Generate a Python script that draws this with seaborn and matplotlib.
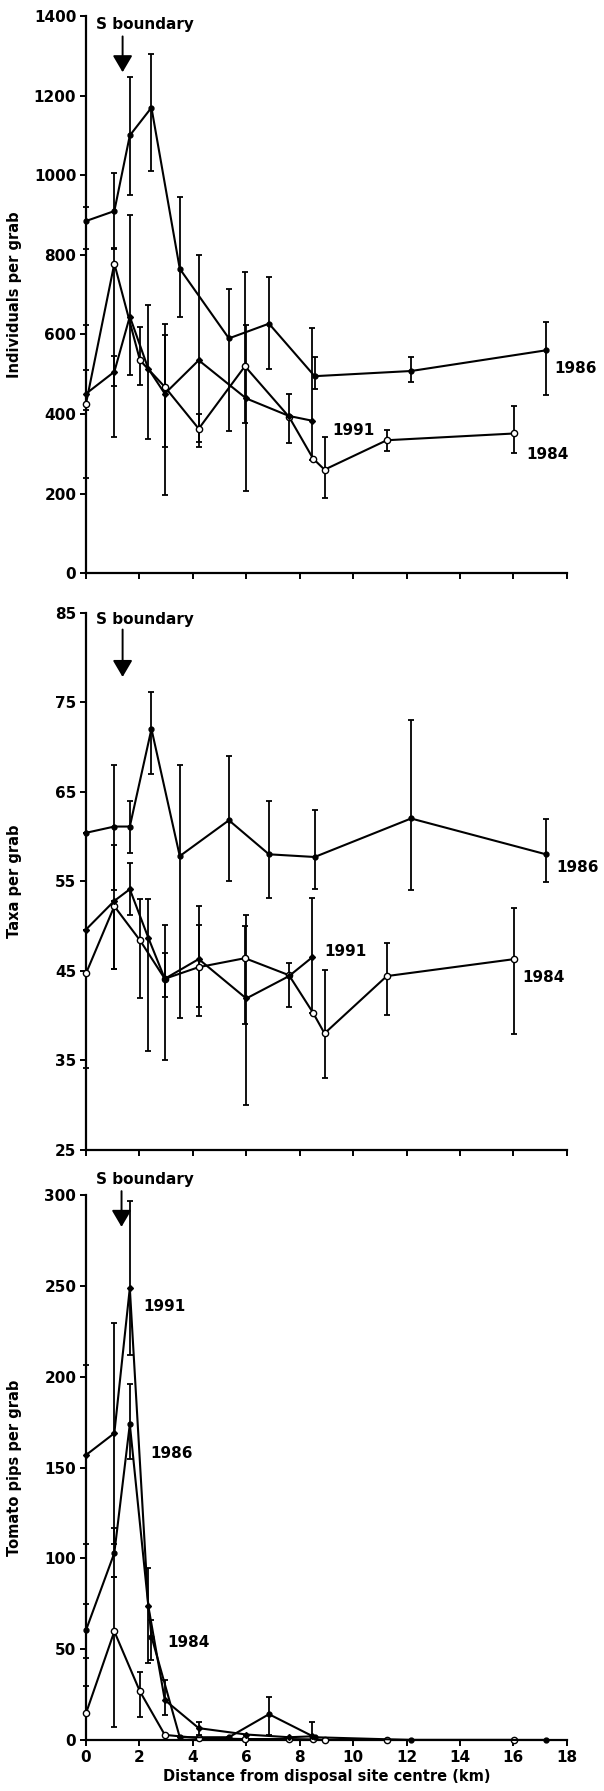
import numpy as np
import pandas as pd
import matplotlib
matplotlib.use("Agg")
import matplotlib.pyplot as plt
import seaborn as sns

sns.set_theme(style="ticks")
plt.rcParams['font.family'] = ['DejaVu Sans']
plt.rcParams['font.weight'] = 'bold'
plt.rcParams['axes.labelweight'] = 'bold'
plt.rcParams['axes.labelcolor'] = 'black'
plt.rcParams['text.color'] = 'black'

# ---------------- stations (distance from disposal site centre, km) -------
x_1984 = [0, 1.06, 2.02, 2.95, 4.22, 5.95, 7.6, 8.5, 8.93, 11.26, 16.04]
x_1986 = [0, 1.06, 1.64, 2.45, 3.51, 5.35, 6.85, 8.56, 12.17, 17.22]
x_1991 = [0, 1.06, 1.64, 2.33, 2.95, 4.22, 6.0, 7.6, 8.47]

# ---------------- Individuals per grab ----------------
ind_1984 = [426, 778, 535, 468, 363, 520, 393, 288, 260, 334, 351]
ind_1984_lo = [239, 342, 472, 317, 317, 378, 326, 288, 188, 307, 301]
ind_1984_hi = [623, 816, 619, 598, 401, 757, 451, 288, 343, 359, 420]
ind_1986 = [885, 910, 1100, 1170, 765, 590, 627, 495, 508, 560]
ind_1986_lo = [814, 815, 950, 1011, 644, 357, 514, 462, 481, 447]
ind_1986_hi = [920, 1005, 1247, 1304, 945, 713, 745, 542, 542, 631]
ind_1991 = [451, 506, 645, 514, 451, 535, 439, 395, 383]
ind_1991_lo = [410, 470, 497, 338, 196, 330, 207, 395, 284]
ind_1991_hi = [510, 545, 900, 673, 626, 799, 623, 395, 615]

# ---------------- Taxa per grab ----------------
tax_1984 = [44.7, 52.2, 48.4, 44.1, 45.4, 46.4, 44.5, 40.3, 38.0, 44.4, 46.3]
tax_1984_lo = [34.1, 45.2, 42.0, 42.1, 41.0, 39.0, 41.0, 40.3, 33.0, 40.0, 37.9]
tax_1984_hi = [49.6, 59.0, 53.0, 47.0, 50.1, 50.0, 45.9, 40.3, 45.1, 48.1, 52.0]
tax_1986 = [60.4, 61.1, 61.1, 72.0, 57.8, 61.8, 58.0, 57.7, 62.0, 58.0]
tax_1986_lo = [60.4, 54.0, 58.1, 67.0, 39.7, 55.0, 53.1, 54.1, 54.0, 54.9]
tax_1986_hi = [60.4, 68.0, 63.9, 76.1, 68.0, 69.0, 64.0, 63.0, 73.0, 61.9]
tax_1991 = [49.6, 52.8, 54.1, 48.7, 44.1, 46.3, 41.9, 44.4, 46.5]
tax_1991_lo = [49.6, 45.2, 51.2, 36.0, 35.0, 39.9, 30.0, 44.4, 40.3]
tax_1991_hi = [49.6, 52.8, 57.0, 53.0, 50.1, 52.2, 51.2, 44.4, 53.1]

# ---------------- Tomato pips per grab ----------------
tom_1984 = [14.7, 59.8, 26.7, 2.8, 1.0, 0.5, 0.5, 0.3, 0, 0, 0]
tom_1984_lo = [0, 7.4, 12.9, 2.8, 1.0, 0.5, 0.5, 0.3, 0, 0, 0]
tom_1984_hi = [29.5, 90, 37.7, 2.8, 1.0, 0.5, 0.5, 0.3, 0, 0, 0]
tom_1986 = [60.5, 103, 174, 57, 1.5, 1.5, 14.2, 1.5, 0, 0]
tom_1986_lo = [45.1, 90, 155, 44, 1.5, 1.5, 3.0, 1.5, 0, 0]
tom_1986_hi = [75, 117, 196, 66, 1.5, 1.5, 23.9, 1.5, 0, 0]
tom_1991 = [157, 169, 249, 74, 22, 6.5, 3, 1.5, 2]
tom_1991_lo = [107.7, 108, 212, 42.4, 14, 3, 3, 1.5, 2]
tom_1991_hi = [206.6, 230, 297, 95, 33, 10, 3, 1.5, 10]

years = ["1984", "1986", "1991"]
styles = {
    "1984": dict(marker="o", markersize=4.5, markerfacecolor="white"),
    "1986": dict(marker="o", markersize=3.5, markerfacecolor="black"),
    "1991": dict(marker="D", markersize=3.0, markerfacecolor="black"),
}

panels = [
    dict(xs=[x_1984, x_1986, x_1991],
         ys=[ind_1984, ind_1986, ind_1991],
         lo=[ind_1984_lo, ind_1986_lo, ind_1991_lo],
         hi=[ind_1984_hi, ind_1986_hi, ind_1991_hi],
         ylim=(0, 1400), yticks=list(range(0, 1401, 200)),
         ylabel="Individuals per grab",
         labels=[("1986", 17.53, 515), ("1991", 9.23, 359), ("1984", 16.49, 297)],
         sb_text=(2.2, 1378), arrow=(1.37, 1349, 1259),
         pos=[0.1424, 0.680, 0.796, 0.311], xlab=False),
    dict(xs=[x_1984, x_1986, x_1991],
         ys=[tax_1984, tax_1986, tax_1991],
         lo=[tax_1984_lo, tax_1986_lo, tax_1991_lo],
         hi=[tax_1984_hi, tax_1986_hi, tax_1991_hi],
         ylim=(25, 85), yticks=list(range(25, 86, 10)),
         ylabel="Taxa per grab",
         labels=[("1986", 17.6, 56.5), ("1991", 8.93, 47.1), ("1984", 16.34, 44.2)],
         sb_text=(2.2, 84.2), arrow=(1.37, 83.1, 77.8),
         pos=[0.1424, 0.358, 0.796, 0.300], xlab=False),
    dict(xs=[x_1984, x_1986, x_1991],
         ys=[tom_1984, tom_1986, tom_1991],
         lo=[tom_1984_lo, tom_1986_lo, tom_1991_lo],
         hi=[tom_1984_hi, tom_1986_hi, tom_1991_hi],
         ylim=(0, 300), yticks=list(range(0, 301, 50)),
         ylabel="Tomato pips per grab",
         labels=[("1991", 2.13, 239), ("1986", 2.39, 158), ("1984", 3.03, 53.8)],
         sb_text=(2.2, 309), arrow=(1.33, 302.4, 282.7),
         pos=[0.1424, 0.0285, 0.796, 0.304], xlab=True),
]

fig = plt.figure(figsize=(6.04, 17.91), dpi=100)

for p in panels:
    ax = fig.add_axes(p["pos"])
    for yr, xs, ys, lo, hi in zip(years, p["xs"], p["ys"], p["lo"], p["hi"]):
        xs = np.array(xs, float); ys = np.array(ys, float)
        lo = np.array(lo, float); hi = np.array(hi, float)
        yerr = [np.clip(ys - lo, 0, None), np.clip(hi - ys, 0, None)]
        eb = ax.errorbar(xs, ys, yerr=yerr, fmt="none", ecolor="black",
                         elinewidth=1.3, capsize=2.5, capthick=1.3, zorder=2)
        for art in eb.lines[1] + eb.lines[2]:
            art.set_clip_on(False)
        df = pd.DataFrame({"x": xs, "y": ys})
        sns.lineplot(data=df, x="x", y="y", ax=ax, color="black", lw=1.5,
                     markeredgecolor="black", markeredgewidth=1.0,
                     estimator=None, sort=False, clip_on=False, zorder=3,
                     **styles[yr])
    ax.set_xlim(0, 18)
    ax.set_ylim(*p["ylim"])
    ax.set_xticks(list(range(0, 19, 2)))
    ax.set_yticks(p["yticks"])
    sns.despine(ax=ax)
    for s in ["left", "bottom"]:
        ax.spines[s].set_linewidth(1.6)
        ax.spines[s].set_color("black")
    ax.tick_params(direction="out", length=4, width=1.4, labelsize=11,
                   colors="black", pad=3)
    ax.set_ylabel(p["ylabel"], fontsize=10.5, fontweight="bold", color="black")
    ax.yaxis.set_label_coords(-0.133, 0.5)
    if p["xlab"]:
        ax.set_xlabel("Distance from disposal site centre (km)",
                      fontsize=10.5, fontweight="bold", labelpad=3, color="black")
    else:
        ax.set_xlabel("")
        ax.tick_params(axis="x", labelbottom=False)
    for lab, lx, ly in p["labels"]:
        ax.text(lx, ly, lab, fontsize=11, fontweight="bold", ha="left",
                va="center", color="black")
    tx, ty = p["sb_text"]
    ax.text(tx, ty, "S boundary", fontsize=11, fontweight="bold",
            ha="center", va="center", color="black", clip_on=False)
    axx, ay0, ay1 = p["arrow"]
    ax.annotate("", xy=(axx, ay1), xytext=(axx, ay0),
                arrowprops=dict(arrowstyle="-|>,head_length=0.85,head_width=0.5",
                                color="black", lw=1.4, shrinkA=0, shrinkB=0),
                annotation_clip=False)

fig.savefig("out.png", dpi=100, facecolor="white")
